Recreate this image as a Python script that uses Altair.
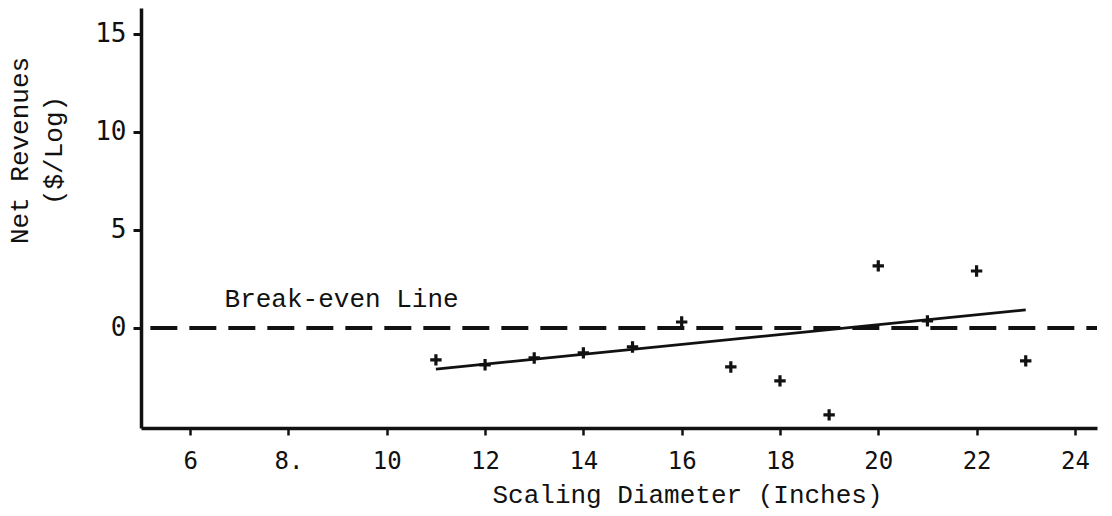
import altair as alt
import pandas as pd

# Data
diameters = [11, 12, 13, 14, 15, 16, 17, 18, 19, 20, 21, 22, 23]
net_revenues = [-1.63, -1.88, -1.53, -1.27, -0.97, 0.30, -1.99, -2.70, -4.43, 3.16, 0.36, 2.90, -1.68]

fit_x = [11, 23]
fit_y = [-2.10, 0.92]

breakeven_start = [5.19]
breakeven_end = [24.45]
breakeven_level = [0.0]

label_text = ["Break-even Line"]
label_x = [6.70]
label_y = [1.07]

x_ticks = [6, 8, 10, 12, 14, 16, 18, 20, 22, 24]
y_ticks = [0, 5, 10, 15]

INK = "#111111"
MONO = "Liberation Mono"
TICKFONT = "DejaVu Sans Mono"

pts = pd.DataFrame({"d": diameters, "r": net_revenues})
fit = pd.DataFrame({"d": fit_x, "r": fit_y})
be = pd.DataFrame({"x1": breakeven_start, "x2": breakeven_end, "y": breakeven_level})
lab = pd.DataFrame({"t": label_text, "x": label_x, "y": label_y})

xscale = alt.Scale(domain=[5.0, 24.45], nice=False, zero=False)
yscale = alt.Scale(domain=[-5.1, 16.3], nice=False, zero=False)

xaxis = alt.Axis(
    title="Scaling Diameter (Inches)",
    values=x_ticks,
    labelExpr="datum.value == 8 ? '8.' : datum.label",
    grid=False,
    domainColor=INK, domainWidth=3.5,
    tickColor=INK, tickWidth=2.5, tickSize=7,
    labelFont=TICKFONT, labelFontSize=24, labelColor=INK, labelPadding=14,
    labelFlush=False,
    titleFont=MONO, titleFontSize=26, titleColor=INK, titleFontWeight="normal",
    titleX=546, titleY=74, titleBaseline="alphabetic", titleAlign="center",
)

yaxis = alt.Axis(
    title=["Net Revenues", "($/Log)"],
    values=y_ticks,
    grid=False,
    domainColor=INK, domainWidth=3.5,
    tickColor=INK, tickWidth=3, tickSize=8,
    labelFont=TICKFONT, labelFontSize=26, labelColor=INK, labelPadding=7,
    titleFont=MONO, titleFontSize=26, titleColor=INK, titleFontWeight="normal",
    titleAngle=-90, titleAlign="center", titleBaseline="top",
    titleX=-135, titleY=142, titleLineHeight=34,
)

points = alt.Chart(pts).mark_point(
    shape="M-1,0H1M0,-1V1", size=130, filled=False, stroke=INK, strokeWidth=3.2, opacity=1
).encode(
    x=alt.X("d:Q", scale=xscale, axis=xaxis),
    y=alt.Y("r:Q", scale=yscale, axis=yaxis),
)

fit_line = alt.Chart(fit).mark_line(color=INK, strokeWidth=2.8).encode(
    x=alt.X("d:Q", scale=xscale),
    y=alt.Y("r:Q", scale=yscale),
)

be_rule = alt.Chart(be).mark_rule(color=INK, strokeWidth=4, strokeDash=[27, 12]).encode(
    x=alt.X("x1:Q", scale=xscale),
    x2="x2:Q",
    y=alt.Y("y:Q", scale=yscale),
)

be_text = alt.Chart(lab).mark_text(
    font=MONO, fontSize=26, color=INK, align="left", baseline="alphabetic"
).encode(
    x=alt.X("x:Q", scale=xscale),
    y=alt.Y("y:Q", scale=yscale),
    text="t:N",
)

chart = alt.layer(be_rule, fit_line, points, be_text).properties(
    width=956,
    height=420,
    padding={"left": 141, "top": 8, "right": 15, "bottom": 88},
    autosize=alt.AutoSizeParams(type="none"),
    background="white",
).configure_view(stroke=None)

chart.save("out.html", embed_options={"renderer": "svg", "actions": False})
